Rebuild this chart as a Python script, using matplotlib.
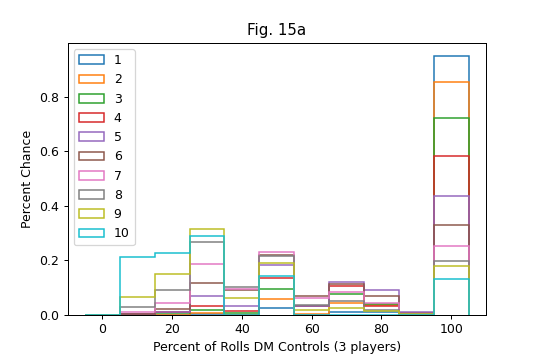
import matplotlib
matplotlib.use("Agg")
import matplotlib.pyplot as plt
import numpy as np

bin_edges = [-5, 5, 15, 25, 35, 45, 55, 65, 75, 85, 95, 105]
bin_centers = [0, 10, 20, 30, 40, 50, 60, 70, 80, 90, 100]
labels = ["1", "2", "3", "4", "5", "6", "7", "8", "9", "10"]

# percent chance per bin (bins centered at 0,10,...,100) for each series
s1 = [0.0, 0.0, 0.0, 0.002, 0.0, 0.025, 0.0, 0.011, 0.010, 0.0, 0.952]
s2 = [0.0, 0.0, 0.0, 0.005, 0.0, 0.058, 0.002, 0.041, 0.037, 0.0, 0.857]
s3 = [0.0, 0.0, 0.005, 0.016, 0.005, 0.095, 0.030, 0.075, 0.040, 0.005, 0.724]
s4 = [0.0, 0.002, 0.008, 0.033, 0.014, 0.136, 0.030, 0.105, 0.030, 0.005, 0.582]
s5 = [0.0, 0.003, 0.010, 0.068, 0.032, 0.184, 0.030, 0.119, 0.092, 0.009, 0.435]
s6 = [0.0, 0.004, 0.020, 0.118, 0.090, 0.219, 0.070, 0.112, 0.070, 0.003, 0.329]
s7 = [0.0, 0.009, 0.042, 0.186, 0.094, 0.231, 0.060, 0.085, 0.042, 0.002, 0.251]
s8 = [0.0, 0.028, 0.091, 0.268, 0.100, 0.215, 0.035, 0.051, 0.017, 0.002, 0.199]
s9 = [0.0, 0.066, 0.150, 0.314, 0.061, 0.191, 0.017, 0.023, 0.014, 0.002, 0.180]
s10 = [0.0, 0.211, 0.228, 0.289, 0.0, 0.142, 0.0, 0.0, 0.0, 0.0, 0.132]

series = [s1, s2, s3, s4, s5, s6, s7, s8, s9, s10]

fig = plt.figure(figsize=(6, 4), dpi=90)
ax = fig.add_subplot(111)
fig.subplots_adjust(left=0.125, right=0.9, top=0.881, bottom=0.126)

for i, (vals, lab) in enumerate(zip(series, labels)):
    ax.hist(bin_centers, bins=bin_edges, weights=vals, histtype="step",
            label=lab, color="C%d" % i, linewidth=1.2)

ax.set_xlim(-10, 110)
ax.set_title("Fig. 15a")
ax.set_xlabel("Percent of Rolls DM Controls (3 players)")
ax.set_ylabel("Percent Chance")
ax.legend(loc="upper left")

fig.savefig("out.png", dpi=90)
